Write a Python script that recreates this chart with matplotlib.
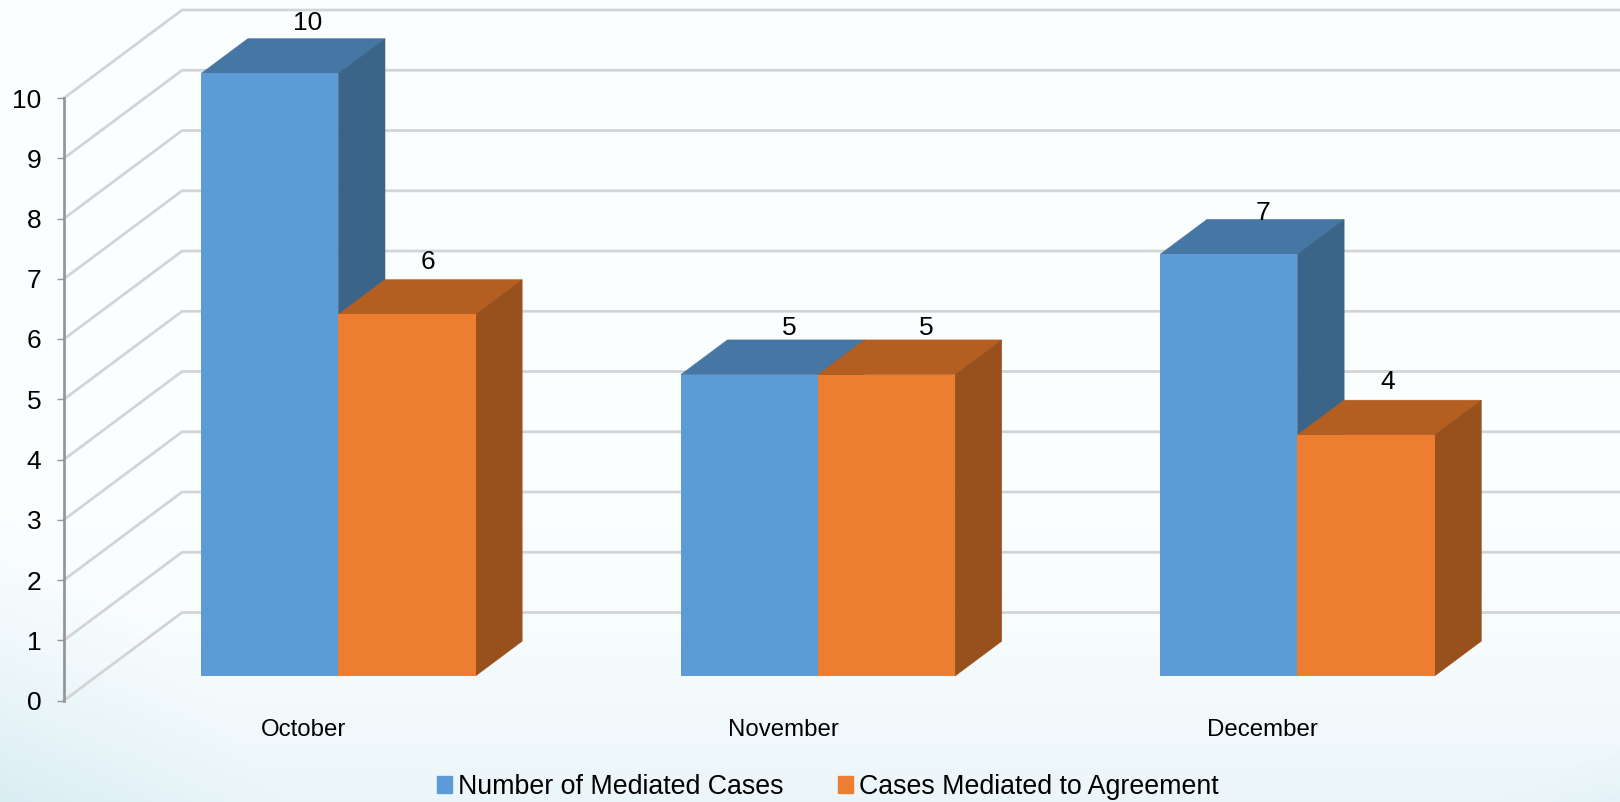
import numpy as np
import matplotlib
matplotlib.use("Agg")
import matplotlib.pyplot as plt
from matplotlib.patches import Patch, Polygon

plt.rcParams['font.family'] = ['Liberation Sans', 'DejaVu Sans']

months = ["October", "November", "December"]
mediated = [10, 5, 7]
agreement = [6, 5, 4]
series_names = ["Number of Mediated Cases", "Cases Mediated to Agreement"]
y_ticks = list(range(0, 11))

# front, top, side colours of each series
BLUE = ("#5D9BD6", "#4676A3", "#3B6489")
ORANGE = ("#ED7D31", "#B55E22", "#98501D")
GRID = "#D2D4D6"

# label offsets from the bar top, in pixels (they are not regular in the original)
blue_offsets = [(38, 50), (40, 47), (34, 41)]
orange_offsets = [(21, 52), (40, 47), (22, 53)]

# fake 3D: how far the back wall is shifted, in data units
DEPTH_X = 0.2461
DEPTH_Y = 1.46
BAR_FRONT = 0.293
BAR_DEPTH = 0.395
BAR_W = 0.2860

W, H = 1620, 802


def background(fig):
    bg = fig.add_axes([0, 0, 1, 1], zorder=0)
    yy, xx = np.mgrid[0:1:200j, 0:1:400j]
    # soft pale blue from the bottom edge, stronger in both lower corners
    amount = np.clip((yy - 0.55) / 0.45, 0, 1) ** 2 * 0.5
    left = np.clip((yy - 0.62) / 0.38 - xx * 2.4, 0, 1) ** 1.3
    right = np.clip((yy - 0.82) / 0.18 - (1 - xx) * 3.0, 0, 1) ** 1.3 * 0.7
    amount = np.maximum(np.maximum(amount, left), right)
    top = np.array([0.988, 0.998, 1.0])
    low = np.array([0.855, 0.93, 0.955])
    img = top + (low - top) * amount[..., None]
    bg.imshow(img, aspect="auto", extent=(0, 1, 0, 1))
    bg.axis("off")


def draw_grid(ax):
    for v in y_ticks:
        ax.plot([-0.5, -0.5 + DEPTH_X, 2.5 + DEPTH_X], [v, v + DEPTH_Y, v + DEPTH_Y],
                color=GRID, lw=2.0, clip_on=False, zorder=1, solid_joinstyle="miter")


def draw_bar(ax, left, value, colors, z):
    x0 = left + BAR_FRONT * DEPTH_X
    y0 = BAR_FRONT * DEPTH_Y - 0.02
    dx = BAR_DEPTH * DEPTH_X
    dy = BAR_DEPTH * DEPTH_Y
    x1 = x0 + BAR_W
    top = y0 + value
    ax.bar(x0, value, BAR_W, bottom=y0, align="edge", color=colors[0],
           clip_on=False, zorder=z + 0.2)
    ax.add_patch(Polygon([(x0, top), (x1, top), (x1 + dx, top + dy), (x0 + dx, top + dy)],
                         closed=True, fc=colors[1], ec=colors[1], lw=0.4, clip_on=False, zorder=z))
    ax.add_patch(Polygon([(x1, y0), (x1 + dx, y0 + dy), (x1 + dx, top + dy), (x1, top)],
                         closed=True, fc=colors[2], ec=colors[2], lw=0.4, clip_on=False, zorder=z + 0.1))
    return (x0 + BAR_W / 2, top)


fig = plt.figure(figsize=(W / 100, H / 100), dpi=100)
background(fig)

ax = fig.add_axes([64 / W, 1 - 700.5 / H, (1502.7 - 64) / W, (700.5 - 98) / H], zorder=1)
ax.patch.set_alpha(0)
ax.set_xlim(-0.5, 2.5)
ax.set_ylim(0, 10)

draw_grid(ax)

for i in range(len(months)):
    p = draw_bar(ax, i - BAR_W, mediated[i], BLUE, 3 + i)
    ax.annotate(str(mediated[i]), p, xytext=blue_offsets[i], textcoords="offset pixels",
                ha="center", va="center", fontsize=19, color="black",
                annotation_clip=False, zorder=20)
    p = draw_bar(ax, i, agreement[i], ORANGE, 3.5 + i)
    ax.annotate(str(agreement[i]), p, xytext=orange_offsets[i], textcoords="offset pixels",
                ha="center", va="center", fontsize=19, color="black",
                annotation_clip=False, zorder=20)

for side in ["top", "right", "bottom"]:
    ax.spines[side].set_visible(False)
ax.spines["left"].set_color("#969696")
ax.spines["left"].set_linewidth(2.0)
ax.spines["left"].set_zorder(2)

ax.set_yticks(y_ticks)
ax.tick_params(axis="y", length=5.4, width=1.0, color="#969696", pad=11, labelsize=19)
ax.set_xticks(range(len(months)))
ax.set_xticklabels(months)
ax.tick_params(axis="x", length=0, pad=13, labelsize=17.3)

handles = [Patch(color=BLUE[0], label=series_names[0]), Patch(color=ORANGE[0], label=series_names[1])]
fig.legend(handles=handles, loc="center", bbox_to_anchor=(827.6 / W, 1 - 787 / H), ncol=2,
           frameon=False, fontsize=19.3, handlelength=0.57, handleheight=0.57,
           handletextpad=0.2, columnspacing=2.05, borderpad=0, borderaxespad=0)

fig.savefig("out.png", dpi=100)
